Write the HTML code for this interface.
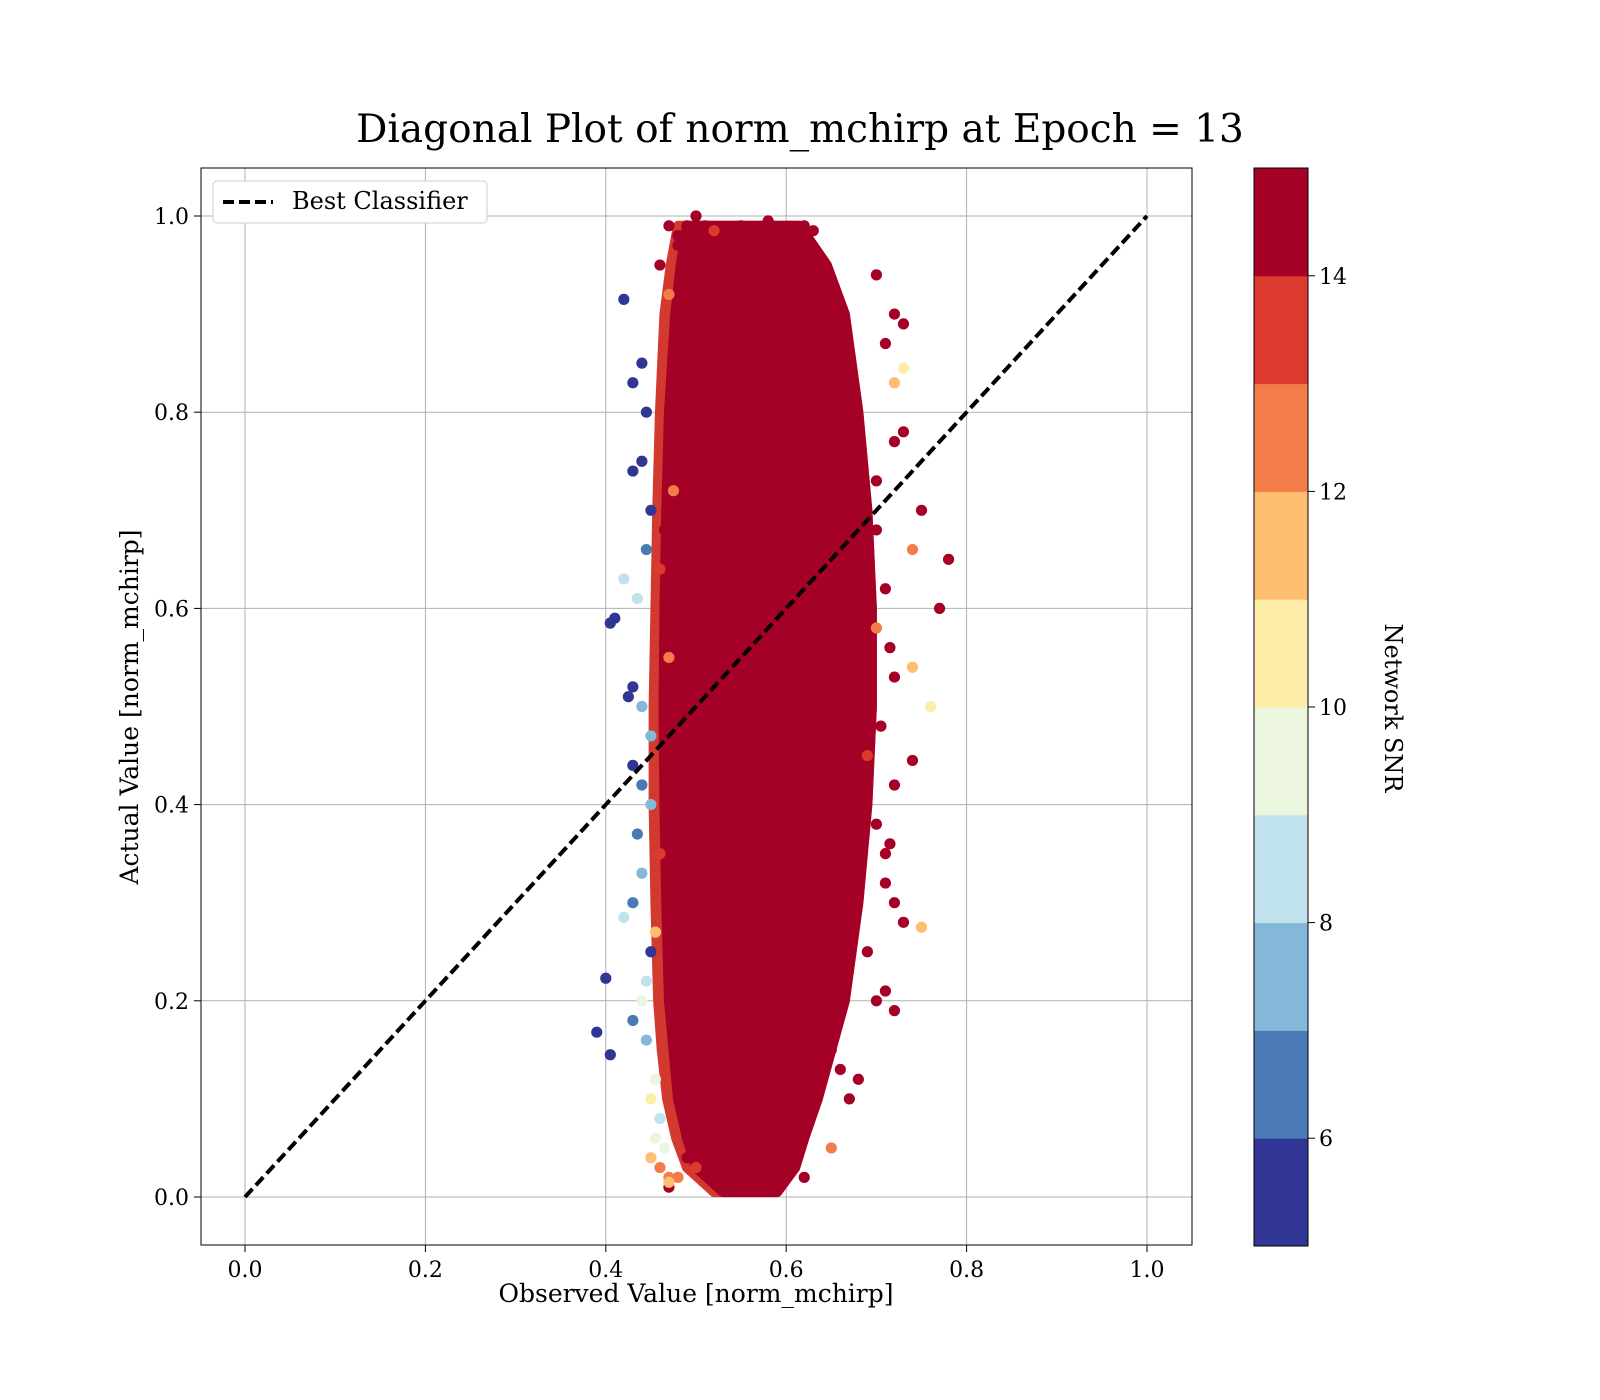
<!DOCTYPE html>
<html><head><meta charset="utf-8"><style>
html,body{margin:0;padding:0;background:#fff;}
svg{display:block;font-family:"DejaVu Serif","Liberation Serif",serif;}
</style></head><body>
<svg id="chart" width="1600" height="1400" viewBox="0 0 1600 1400" xmlns="http://www.w3.org/2000/svg">
<text x="800" y="142" font-size="39" text-anchor="middle">Diagonal Plot of norm_mchirp at Epoch = 13</text>
<g id="grid"></g>
<g id="core"></g>
<g id="pts"></g>
<g id="diag"></g>
<rect x="201" y="168" width="991" height="1077" fill="none" stroke="#000" stroke-width="1"/>
<g id="ticks"></g>
<text x="696" y="1302" font-size="25" text-anchor="middle">Observed Value [norm_mchirp]</text>
<text transform="translate(138,707) rotate(-90)" font-size="25" text-anchor="middle">Actual Value [norm_mchirp]</text>
<g>
<rect x="213" y="181" width="274" height="42" rx="4" fill="#fff" stroke="#ccc"/>
<line x1="223" y1="202" x2="273" y2="202" stroke="#000" stroke-width="4" stroke-dasharray="11,5"/>
<text x="292" y="209" font-size="24">Best Classifier</text>
</g>
<g id="cbar"></g>
<text transform="translate(1385,708) rotate(90)" font-size="24" text-anchor="middle">Network SNR</text>
</svg>
<script>
const xTicks=[0,0.2,0.4,0.6,0.8,1.0];
const xTickLabels=["0.0","0.2","0.4","0.6","0.8","1.0"];
const yTicks=[0,0.2,0.4,0.6,0.8,1.0];
const yTickLabels=["0.0","0.2","0.4","0.6","0.8","1.0"];
const coreY=[0.005,0.03,0.06,0.1,0.15,0.2,0.3,0.4,0.5,0.6,0.7,0.8,0.9,0.95,0.99];
const coreLeft=[0.53,0.50,0.49,0.48,0.475,0.47,0.467,0.465,0.464,0.465,0.467,0.47,0.477,0.483,0.49];
const coreRight=[0.59,0.61,0.62,0.635,0.65,0.665,0.68,0.69,0.695,0.695,0.69,0.68,0.665,0.645,0.615];
const fringeLeft=[0.52,0.49,0.478,0.468,0.462,0.458,0.455,0.453,0.453,0.455,0.457,0.46,0.465,0.472,0.48];
const ptX=[0.42,0.43,0.44,0.445,0.41,0.405,0.44,0.43,0.45,0.42,0.435,0.445,0.43,0.44,0.425,0.39,0.40,0.405,0.43,0.44,0.45,0.435,0.42,0.44,0.43,0.45,0.445,0.44,0.43,0.445,0.455,0.45,0.46,0.455,0.45,0.46,0.47,0.465,0.47,0.455,0.46,0.45,0.47,0.46,0.465,0.475,0.48,0.47,0.48,0.49,0.50,0.51,0.52,0.55,0.58,0.60,0.62,0.63,0.61,0.62,0.65,0.67,0.70,0.72,0.71,0.73,0.75,0.76,0.74,0.72,0.73,0.78,0.77,0.75,0.74,0.70,0.72,0.73,0.71,0.70,0.69,0.68,0.70,0.71,0.72,0.69,0.74,0.73,0.72,0.70,0.68,0.66,0.65,0.64,0.48,0.47,0.50,0.49,0.46,0.47,0.71,0.715,0.705,0.72,0.71,0.70,0.715,0.72];
const ptY=[0.915,0.83,0.85,0.80,0.59,0.585,0.75,0.74,0.70,0.63,0.61,0.66,0.52,0.50,0.51,0.168,0.223,0.145,0.44,0.42,0.40,0.37,0.285,0.33,0.30,0.25,0.22,0.20,0.18,0.16,0.12,0.10,0.08,0.06,0.04,0.03,0.02,0.05,0.01,0.27,0.35,0.47,0.55,0.64,0.68,0.72,0.98,0.99,0.97,0.99,1.0,0.99,0.985,0.99,0.995,0.98,0.99,0.985,0.06,0.02,0.05,0.10,0.20,0.19,0.21,0.28,0.275,0.50,0.54,0.83,0.845,0.65,0.60,0.70,0.66,0.94,0.90,0.89,0.87,0.58,0.45,0.40,0.38,0.35,0.30,0.25,0.445,0.78,0.77,0.73,0.12,0.13,0.15,0.18,0.02,0.015,0.03,0.04,0.95,0.92,0.62,0.56,0.48,0.42,0.32,0.68,0.36,0.53];
const ptSnr=[5,5,5,5,5,5,5,5,5,8,8,6,5,7,5,5,5,5,5,6,7,6,8,7,6,5,8,9,6,7,9,10,8,9,11,12,12,9,14,11,13,7,12,13,15,12,15,15,14,15,14,15,13,15,15,15,15,15,15,15,12,15,15,15,15,15,11,10,11,11,10,15,15,15,12,15,15,15,14,12,13,15,14,15,15,15,15,15,15,15,15,15,15,15,12,11,13,14,15,12,15,15,14,15,15,15,15,15];
const cbLevels=[5,6,7,8,9,10,11,12,13,14,15];
const cbColors=["#313695","#4a7ab6","#84b8d8","#bfe2ec","#ecf6de","#fdeda6","#fdbe6f","#f47c4a","#db3a2c","#a50026"];
const cbTicks=[6,8,10,12,14];

const NS="http://www.w3.org/2000/svg";
const X=v=>245+902*v, Y=v=>1197-981*v;
const CB=v=>1246-(v-5)*107.8;
function mk(tag,attrs,parent){const e=document.createElementNS(NS,tag);for(const k in attrs)e.setAttribute(k,attrs[k]);parent.appendChild(e);return e;}
const grid=document.getElementById('grid'),ticks=document.getElementById('ticks');
xTicks.forEach((t,i)=>{
 const g=mk('line',{x1:X(t),x2:X(t),y1:168,y2:1245,stroke:'#b0b0b0','stroke-width':1},grid);
 
 
 const tk=mk('line',{x1:X(t),x2:X(t),y1:1245,y2:1252,stroke:'#000'},ticks);
 
 
 const tx=mk('text',{x:X(t),y:1277,'font-size':22,'text-anchor':'middle'},ticks);tx.textContent=xTickLabels[i];
 
 
});
yTicks.forEach((t,i)=>{
 const g=mk('line',{x1:201,x2:1192,y1:Y(t),y2:Y(t),stroke:'#b0b0b0','stroke-width':1},grid);
 
 
 const tk=mk('line',{x1:194,x2:201,y1:Y(t),y2:Y(t),stroke:'#000'},ticks);
 
 
 const tx=mk('text',{x:189,y:Y(t)+8,'font-size':22,'text-anchor':'end'},ticks);tx.textContent=yTickLabels[i];
 
 
});
function colorFor(s){for(let i=0;i<cbColors.length;i++){if(s<cbLevels[i+1])return cbColors[i];}return cbColors[cbColors.length-1];}
function region(left,right,fill,name){
 let d='';
 coreY.forEach((y,i)=>{d+=(i?'L':'M')+X(left[i])+','+Y(y);});
 for(let i=coreY.length-1;i>=0;i--)d+='L'+X(right[i])+','+Y(coreY[i]);
 d+='Z';
 const p=mk('path',{d:d,fill:fill,stroke:fill,'stroke-width':10,'stroke-linejoin':'round'},document.getElementById('core'));
 
 
}
region(fringeLeft,coreRight,'#d23a30','scatter-fringe-region');
region(coreLeft,coreRight,'#a50026','scatter-core-region');
const pts=document.getElementById('pts');
ptX.forEach((x,i)=>{
 const c=mk('circle',{cx:X(x),cy:Y(ptY[i]),r:5.6,fill:colorFor(ptSnr[i])},pts);
 
 
});
const dl=mk('line',{x1:X(0),y1:Y(0),x2:X(1),y2:Y(1),stroke:'#000','stroke-width':4,'stroke-dasharray':'11,5'},document.getElementById('diag'));


const cb=document.getElementById('cbar');
cbColors.forEach((c,i)=>{
 const r=mk('rect',{x:1254,y:CB(cbLevels[i+1]),width:54,height:CB(cbLevels[i])-CB(cbLevels[i+1])+0.5,fill:c},cb);
 
 
});
const fr=mk('rect',{x:1254,y:168,width:54,height:1078,fill:'none',stroke:'#000'},cb);


cbTicks.forEach(t=>{
 const tk=mk('line',{x1:1308,x2:1315,y1:CB(t),y2:CB(t),stroke:'#000'},cb);
 
 
 const tx=mk('text',{x:1319,y:CB(t)+8,'font-size':22},cb);tx.textContent=t;
 
 
});
</script>
</body></html>
